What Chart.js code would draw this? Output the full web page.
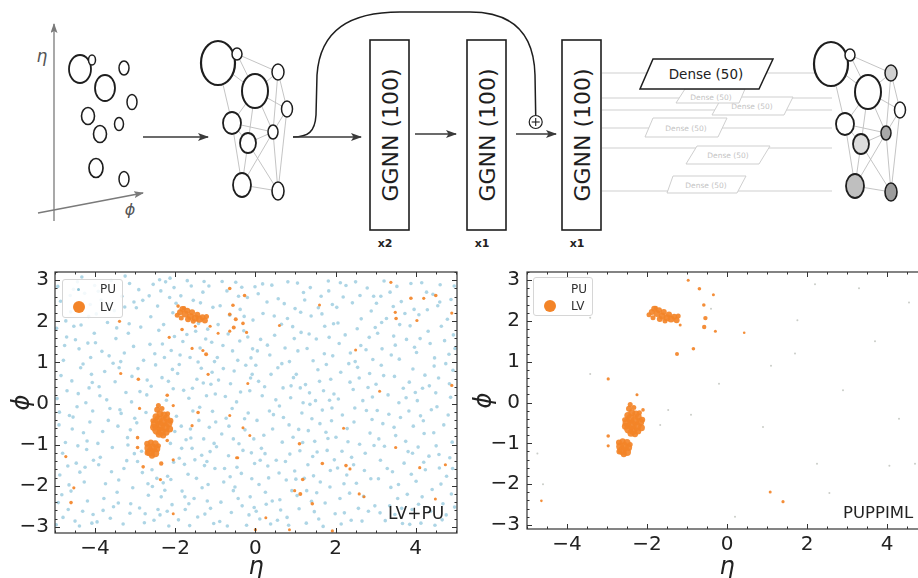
<!DOCTYPE html>
<html><head><meta charset="utf-8">
<script src="https://cdn.jsdelivr.net/npm/chart.js@4.4.1/dist/chart.umd.min.js"></script>
<style>
html,body{margin:0;padding:0;background:#fff;width:918px;height:578px;overflow:hidden;position:relative;font-family:"DejaVu Sans",sans-serif}
#diagram{position:absolute;left:0;top:0}
canvas{position:absolute}
#c1{left:0;top:255px}
#c2{left:462px;top:255px}
.legend{position:absolute;border:1px solid #d6d6d6;border-radius:3px;background:rgba(255,255,255,0.85);font-size:12px;color:#333;box-sizing:border-box}
.legend span{position:absolute;line-height:12px}
.dot{border-radius:50%}
.corner{position:absolute;color:#222;line-height:1;white-space:nowrap}
</style></head>
<body>
<svg id="diagram" width="918" height="255" viewBox="0 0 918 255" xmlns="http://www.w3.org/2000/svg" font-family="DejaVu Sans"></svg>
<canvas id="c1" width="462" height="340"></canvas>
<canvas id="c2" width="475" height="340"></canvas>
<div class="legend" style="left:62px;top:279px;width:61px;height:39px">
  <span class="dot" style="left:14px;top:8px;width:3px;height:3px;background:#8cc3d7"></span>
  <span style="left:37px;top:3px">PU</span>
  <span class="dot" style="left:10px;top:21px;width:12px;height:12px;background:#f38428"></span>
  <span style="left:37px;top:21px">LV</span>
</div>
<div class="legend" style="left:533px;top:277px;width:60px;height:39px">
  <span style="left:37px;top:5px">PU</span>
  <span class="dot" style="left:10px;top:22px;width:12px;height:12px;background:#f38428"></span>
  <span style="left:37px;top:22px">LV</span>
</div>
<div class="corner" style="left:388px;top:505px;font-size:17px">LV+PU</div>
<div class="corner" style="left:843px;top:505px;font-size:16.5px">PUPPIML</div>
<script>
// ---------------- data ----------------
const X_TICKS = [-4, -2, 0, 2, 4];
const Y_TICKS = [-3, -2, -1, 0, 1, 2, 3];
const X_TITLE = 'η';
const Y_TITLE = 'ϕ';

// pileup particles (eta, phi) in the LV+PU event
const puPoints = [
[-4.93,2.85],[-4.71,1.62],[-4.55,-0.33],[-4.88,-1.74],[-4.12,2.41],[-4.36,0.87],[-4.67,-2.58],[-4.21,-1.12],[-4.95,0.12],[-4.44,2.96],[-4.08,-2.91],[-4.79,1.05],[-4.29,-0.71],[-4.61,2.23],[-4.15,0.38],[-4.83,-2.22],[-4.47,-1.45],[-4.02,1.71],[-4.74,-0.95],[-4.33,3.08],[-4.58,0.55],[-4.19,-2.37],[-4.9,-0.52],[-4.4,1.33],[-4.06,-0.18],[-4.65,-1.98],[-4.26,2.68],[-4.86,2.49],[-4.5,-2.86],[-4.11,1.12],[-4.7,0.31],[-4.38,-1.67],[-4.97,-2.95],[-4.23,0.02],[-4.53,1.88],[-4.04,-1.38],[-4.81,-1.21],[-4.31,-2.62],[-4.62,2.63],[-4.16,2.12],[-4.45,-0.08],[-4.76,1.41],[-4.09,0.71],[-4.57,-0.62],[-4.35,1.91],[-4.92,-2.41],[-4.2,-0.91],[-4.68,-1.52],[-4.42,0.24],[-4.01,2.87],[-4.85,0.68],[-4.27,-1.91],[-4.6,-2.13],[-4.13,-0.45],[-4.73,2.01],[-4.49,1.55],[-4.05,-2.7],[-4.89,-0.21],[-4.3,0.96],[-4.64,-0.29],[-4.18,1.47],[-4.96,1.83],[-4.39,-2.98],[-4.07,0.51],[-4.54,2.78],[-4.25,-1.55],[-4.8,-2.77],[-4.43,-1.03],
[-3.92,2.73],[-3.15,1.94],[-3.67,-0.41],[-3.41,-1.86],[-3.08,0.66],[-3.83,1.27],[-3.54,-2.51],[-3.26,2.35],[-3.71,0.09],[-3.02,-1.22],[-3.95,-2.88],[-3.38,-0.15],[-3.6,2.99],[-3.19,-0.83],[-3.87,-1.31],[-3.48,1.58],[-3.11,-2.44],[-3.76,0.78],[-3.33,2.61],[-3.57,-1.07],[-3.04,1.39],[-3.9,0.41],[-3.45,-2.16],[-3.23,0.27],[-3.69,1.97],[-3.14,2.92],[-3.81,-0.68],[-3.36,1.02],[-3.62,-2.79],[-3.01,-0.36],[-3.5,0.53],[-3.97,2.18],[-3.28,-1.58],[-3.74,-1.95],[-3.17,1.71],[-3.43,-0.55],[-3.85,2.52],[-3.06,-2.05],[-3.65,1.16],[-3.3,-2.93],[-3.93,-0.97],[-3.52,2.26],[-3.21,-1.39],[-3.78,-2.31],[-3.4,0.87],[-3.09,0.04],[-3.59,-1.66],[-3.88,0.19],[-3.25,3.1],[-3.7,2.84],[-3.13,-2.67],[-3.46,1.84],[-3.99,1.48],[-3.35,-0.24],[-3.63,-0.12],[-3.18,-1.01],[-3.8,-2.6],[-3.55,0.98],[-3.03,2.47],[-3.42,-2.42],[-3.91,-1.49],[-3.27,1.23],[-3.66,2.41],[-3.12,-0.64],
[-2.91,2.77],[-2.14,2.58],[-2.63,1.44],[-2.38,-2.71],[-2.82,-1.68],[-2.05,0.36],[-2.55,2.9],[-2.27,1.12],[-2.71,0.21],[-2.19,-1.77],[-2.96,-0.47],[-2.44,2.37],[-2.08,-2.46],[-2.67,-2.23],[-2.33,0.63],[-2.86,1.86],[-2.12,-0.97],[-2.58,-1.61],[-2.24,2.96],[-2.77,-2.9],[-2.02,1.63],[-2.49,0.94],[-2.93,0.85],[-2.3,-1.93],[-2.61,2.11],[-2.16,-2.98],[-2.84,-1.16],[-2.41,1.78],[-2.06,2.21],[-2.73,-0.22],[-2.35,-2.27],[-2.97,2.33],[-2.22,0.08],[-2.53,-2.84],[-2.1,1.29],[-2.79,1.05],[-2.46,-1.82],[-2.01,-0.68],[-2.65,2.62],[-2.29,1.92],[-2.89,-2.54],[-2.17,0.54],[-2.57,-2.02],[-2.04,-1.43],[-2.7,0.57],[-2.36,2.74],[-2.94,-1.41],[-2.2,-2.62],[-2.51,1.21],[-2.13,3.05],[-2.81,2.51],[-2.43,-2.58],[-2.07,0.83],[-2.75,-2.68],[-2.32,1.45],[-2.6,0.42],[-2.26,-2.11],[-2.88,0.29],[-2.11,-1.85],[-2.68,-1.95],[-2.39,3.01],[-2.03,2.82],
[-1.94,0.73],[-1.16,2.86],[-1.62,-0.62],[-1.38,1.35],[-1.83,-2.13],[-1.07,-0.19],[-1.55,2.51],[-1.27,-1.51],[-1.71,1.68],[-1.02,1.02],[-1.9,-1.33],[-1.44,-2.76],[-1.11,0.47],[-1.66,0.13],[-1.31,2.71],[-1.86,2.62],[-1.2,-2.37],[-1.58,-1.09],[-1.04,-2.92],[-1.75,-2.58],[-1.35,0.86],[-1.97,-0.31],[-1.49,1.76],[-1.13,-1.17],[-1.68,-1.72],[-1.24,1.57],[-1.88,1.18],[-1.41,-0.41],[-1.06,2.34],[-1.6,2.86],[-1.29,-0.86],[-1.79,0.32],[-1.18,-1.97],[-1.53,-2.31],[-1.01,-1.58],[-1.73,-0.88],[-1.37,2.45],[-1.92,-2.83],[-1.46,0.59],[-1.09,1.49],[-1.64,-2.97],[-1.22,0.19],[-1.81,1.51],[-1.33,-2.05],[-1.98,2.44],[-1.51,-1.37],[-1.15,-0.58],[-1.7,2.99],[-1.26,-2.69],[-1.85,-0.55],[-1.43,1.01],[-1.08,0.76],[-1.57,0.37],[-1.34,-1.26],[-1.77,-1.48],[-1.19,1.81],[-1.63,1.12],[-1.03,-0.97],[-1.47,-1.82],[-1.9,0.95],[-1.28,2.97],[-1.12,-2.55],[-1.66,-2.44],[-1.39,-0.09],[-1.84,-1.09],[-1.21,-1.41],[-1.56,-0.18],[-1.0,0.23],[-1.76,-2.27],[-1.42,1.95],[-1.3,0.5],[-1.61,-0.84],
[-0.93,1.92],[-0.16,-2.71],[-0.62,0.48],[-0.38,2.29],[-0.84,-0.74],[-0.07,1.33],[-0.55,-2.12],[-0.27,-0.37],[-0.71,2.74],[-0.02,-1.46],[-0.89,-2.87],[-0.44,1.05],[-0.12,0.62],[-0.67,-1.27],[-0.33,-2.49],[-0.81,1.41],[-0.2,2.58],[-0.58,-0.12],[-0.04,-0.86],[-0.75,0.17],[-0.35,-1.7],[-0.97,-1.05],[-0.49,2.95],[-0.13,-2.27],[-0.68,1.69],[-0.24,0.93],[-0.88,2.38],[-0.41,-0.98],[-0.06,2.03],[-0.6,-2.65],[-0.29,1.77],[-0.79,-1.91],[-0.18,-0.23],[-0.53,0.79],[-0.01,2.84],[-0.73,-0.36],[-0.37,0.28],[-0.92,0.57],[-0.46,-1.55],[-0.09,-1.83],[-0.64,2.15],[-0.22,-2.96],[-0.86,-2.4],[-0.42,2.61],[-0.11,1.11],[-0.66,-0.55],[-0.31,-1.14],[-0.95,1.12],[-0.51,-2.03],[-0.14,0.31],[-0.77,-1.58],[-0.39,1.52],[-0.03,-2.53],[-0.57,1.28],[-0.26,-0.64],[-0.83,2.97],[-0.47,0.04],[-0.1,-1.2],[-0.7,-2.98],[-0.34,2.83],[-0.99,-0.45],[-0.55,-0.86],[-0.19,1.62],[-0.8,0.85],[-0.43,-2.31],[-0.08,0.71],[-0.63,-1.78],[-0.28,2.12],
[0.07,2.67],[0.84,-0.52],[0.36,1.18],[0.61,-2.34],[0.15,-1.09],[0.93,1.87],[0.45,-0.27],[0.72,2.43],[0.23,0.41],[0.98,-1.64],[0.11,-2.81],[0.56,0.87],[0.88,0.14],[0.33,-1.81],[0.67,-0.94],[0.19,2.19],[0.79,-2.77],[0.41,2.88],[0.04,-0.41],[0.52,-1.38],[0.95,0.63],[0.27,-2.45],[0.74,1.35],[0.13,1.56],[0.6,-0.06],[0.86,-1.23],[0.38,-2.93],[0.01,0.93],[0.48,1.66],[0.81,2.96],[0.21,-0.77],[0.69,0.38],[0.31,-1.52],[0.91,-2.12],[0.09,-1.97],[0.57,2.55],[0.43,-0.62],[0.77,-1.86],[0.17,0.19],[0.99,2.31],[0.63,-2.59],[0.29,2.47],[0.85,1.02],[0.05,1.28],[0.51,0.09],[0.7,-0.34],[0.25,-2.16],[0.94,-0.82],[0.39,0.71],[0.12,-1.38],[0.65,1.93],[0.83,-2.96],[0.35,-0.18],[0.59,-1.69],[0.02,-2.62],[0.47,2.13],[0.89,0.43],[0.18,2.91],[0.75,-1.41],[0.3,1.42],[0.55,-2.84],[0.97,1.58],[0.08,0.54],[0.66,0.97],[0.42,-2.37],[0.8,2.07],[0.24,-1.22],
[1.08,-0.63],[1.83,2.74],[1.35,0.26],[1.62,-1.91],[1.14,1.73],[1.91,-0.11],[1.47,-2.63],[1.72,1.21],[1.23,2.52],[1.97,-1.37],[1.04,-2.24],[1.56,0.82],[1.81,-0.85],[1.31,-1.49],[1.66,2.18],[1.19,0.02],[1.88,0.59],[1.41,-0.37],[1.05,2.93],[1.74,-2.42],[1.52,1.57],[1.27,-2.91],[1.95,1.94],[1.11,-1.15],[1.61,-0.49],[1.86,-2.03],[1.37,2.82],[1.02,0.71],[1.7,0.31],[1.45,-1.76],[1.16,-0.23],[1.92,2.41],[1.58,-2.81],[1.29,1.34],[1.79,-1.14],[1.06,1.28],[1.5,0.07],[1.84,1.61],[1.22,-1.82],[1.67,-0.16],[1.39,2.13],[1.99,-2.68],[1.13,2.22],[1.54,-1.18],[1.77,0.95],[1.32,-0.66],[1.9,-0.42],[1.44,1.04],[1.09,-2.56],[1.64,2.61],[1.25,0.46],[1.87,-1.63],[1.53,-2.17],[1.18,-0.95],[1.73,1.88],[1.4,-2.38],[1.96,0.23],[1.34,1.69],[1.6,0.54],[1.01,-1.84],[1.82,2.98],[1.48,-0.92],[1.2,2.7],[1.69,-2.99],[1.36,-0.02],[1.93,1.16],[1.57,2.33],[1.12,0.38],[1.76,-0.7],[1.43,-1.29],[1.85,0.08],[1.28,-2.12],
[2.09,1.46],[2.86,-0.72],[2.35,-2.18],[2.61,2.63],[2.17,-0.28],[2.93,1.07],[2.44,0.34],[2.72,-1.63],[2.26,2.87],[2.98,-2.49],[2.05,-1.57],[2.54,1.82],[2.81,0.39],[2.31,-0.93],[2.66,-2.86],[2.13,0.76],[2.89,2.25],[2.4,-1.31],[2.03,2.34],[2.77,-0.17],[2.5,2.96],[2.22,-2.66],[2.96,-1.02],[2.59,0.62],[2.14,-2.93],[2.84,1.61],[2.37,1.23],[2.7,-2.26],[2.07,0.11],[2.46,-0.45],[2.92,0.16],[2.28,-1.74],[2.63,1.41],[2.19,2.59],[2.79,2.81],[2.52,-1.94],[2.01,-0.82],[2.74,-1.21],[2.33,0.97],[2.88,-1.83],[2.42,2.45],[2.11,-2.31],[2.68,0.07],[2.57,-2.55],[2.24,1.67],[2.95,2.61],[2.48,-0.11],[2.16,-1.16],[2.82,-2.62],[2.39,-2.84],[2.64,2.06],[2.06,1.96],[2.55,0.88],[2.29,-0.61],[2.91,-0.39],[2.45,-1.49],[2.12,2.94],[2.76,1.31],[2.36,0.52],[2.6,-0.99],[2.21,-1.95],[2.85,0.73],[2.49,1.02],[2.99,1.85],
[3.07,-1.83],[3.84,0.52],[3.36,2.71],[3.62,-0.34],[3.14,0.93],[3.91,-2.58],[3.45,1.64],[3.73,2.19],[3.22,-1.04],[3.97,1.37],[3.02,2.44],[3.55,-2.31],[3.81,-1.17],[3.31,0.21],[3.67,-2.92],[3.18,-0.49],[3.88,2.92],[3.42,-1.66],[3.05,1.71],[3.76,0.14],[3.5,-0.78],[3.27,2.07],[3.94,-0.55],[3.59,1.08],[3.11,-2.66],[3.86,1.89],[3.38,-2.04],[3.71,-1.45],[3.04,-0.17],[3.47,0.66],[3.93,0.84],[3.24,-2.85],[3.64,2.48],[3.16,1.33],[3.79,-2.21],[3.53,2.85],[3.01,0.47],[3.75,-0.92],[3.33,-0.26],[3.89,-1.72],[3.44,2.36],[3.12,-1.38],[3.69,0.37],[3.57,-1.97],[3.21,2.98],[3.96,2.29],[3.48,-2.7],[3.15,1.97],[3.83,-0.18],[3.39,1.18],[3.65,-2.55],[3.08,-0.86],[3.58,0.02],[3.29,-1.58],[3.92,-1.21],[3.46,-0.58],[3.13,2.61],[3.77,1.56],[3.35,-2.49],[3.6,1.92],[3.2,0.68],[3.85,-2.94],[3.49,1.42],[3.99,0.27],
[4.08,2.16],[4.85,-1.32],[4.34,0.43],[4.61,2.89],[4.16,-2.27],[4.93,0.81],[4.45,-0.71],[4.72,1.53],[4.24,-1.61],[4.97,-2.52],[4.04,0.07],[4.55,2.38],[4.81,-0.28],[4.31,1.76],[4.66,-2.83],[4.19,-0.42],[4.88,2.53],[4.41,-2.09],[4.02,1.24],[4.77,-1.77],[4.5,0.26],[4.27,2.71],[4.94,1.67],[4.58,-1.24],[4.13,-2.91],[4.84,0.48],[4.37,-2.62],[4.7,-0.52],[4.06,-1.06],[4.47,1.11],[4.91,-0.94],[4.23,0.69],[4.63,-1.96],[4.15,2.94],[4.79,2.05],[4.53,-0.08],[4.01,-1.89],[4.75,0.97],[4.33,-1.28],[4.89,-2.2],[4.43,2.66],[4.11,1.58],[4.68,-2.44],[4.57,0.62],[4.21,-0.73],[4.96,2.86],[4.48,-2.96],[4.17,0.37],[4.83,1.2],[4.39,-0.15],[4.64,1.88],[4.07,-2.45],[4.59,-1.57],[4.29,2.28],[4.92,-1.58],[4.46,0.91],[4.12,-0.3],[4.76,-2.71],[4.36,1.46],[4.6,2.47],[4.2,-1.43],[4.87,0.15],[4.51,-1.03],[4.98,1.34]
];

// pileup particles surviving PUPPIML weighting (eta, phi)
const puKept = [
[-3.42,0.7],[-3.42,2.08],[-1.47,-0.18],[-1.67,-0.55],[-2.26,0.2],[-0.2,0.46],[2.25,-1.5],[4.06,-1.55],[4.7,-1.5],[2.56,-2.22],[0.2,-2.8],[-4.74,-1.25],[-4.6,-2.0],[1.76,2.02],[3.3,2.8],[2.9,0.3],[4.3,-0.4],[1.7,1.2],[3.7,1.5],[0.9,-0.6],[-0.9,-0.3],[4.55,2.45],[3.2,-2.7],[1.1,0.9],[-0.4,2.3],[2.2,2.9]
];

// leading-vertex jet constituents (eta, phi, marker radius ~ pT)
const lvJets = [
[-1.88,2.22,3],[-1.82,2.30,3],[-1.75,2.18,3.5],[-1.70,2.26,3],[-1.62,2.12,3.5],[-1.58,2.22,3],[-1.50,2.08,3.5],[-1.45,2.16,3],[-1.40,2.05,3.5],[-1.32,2.10,3],[-1.26,2.02,3],[-1.85,2.08,2.5],[-1.68,2.05,3],[-1.55,2.00,2.5],[-1.95,2.15,2.5],[-1.22,2.12,2.5],[-1.78,2.32,2.2],
[-2.42,-0.05,2.5],[-2.45,-0.15,3],[-2.33,-0.12,2.5],[-2.38,-0.25,3.5],[-2.28,-0.28,3.5],[-2.48,-0.32,3.5],[-2.22,-0.35,3.5],[-2.42,-0.40,4.5],[-2.30,-0.45,4.5],[-2.17,-0.48,4],[-2.50,-0.50,4.5],[-2.38,-0.55,5],[-2.25,-0.58,4.5],[-2.14,-0.62,3.5],[-2.46,-0.65,4.5],[-2.35,-0.68,4.5],[-2.23,-0.70,3.5],[-2.40,-0.75,3.5],[-2.30,-0.78,3],[-2.54,-0.58,3.5],[-2.12,-0.42,3],[-2.19,-0.25,2.5],[-2.56,-0.42,2.5],
[-2.70,-0.98,3],[-2.61,-0.95,3],[-2.50,-0.98,3.5],[-2.67,-1.08,4],[-2.56,-1.08,4.5],[-2.46,-1.10,3.5],[-2.62,-1.18,4.5],[-2.50,-1.21,4],[-2.69,-1.20,3],[-2.58,-1.27,3],[-2.42,-1.03,2.5]
];

// isolated leading-vertex particles in the LV+PU view (eta, phi, radius)
const lvLooseAll = [
[-0.64,2.8,1.8],[-0.27,2.63,1.8],[-0.56,2.39,1.8],[-1.93,2.37,1.8],[-0.64,2.17,1.8],[-0.49,2.05,2],[-0.31,1.95,1.8],[-0.54,1.85,2],[-0.64,1.76,1.6],[-0.22,1.73,1.6],[-1.83,1.8,1.8],[-1.5,1.88,1.5],[-2.15,1.61,1.6],[-1.13,1.88,1.6],[-1.58,1.34,1.6],[-1.23,1.2,2],[-1.31,1.29,1.6],[-0.93,1.71,1.5],[-2.92,0.59,1.8],[-2.2,0.2,1.8],[-2.05,-0.05,1.6],[-2.89,-0.12,1.6],[-1.58,-0.54,1.6],[-1.43,-0.22,1.8],[-0.19,0.49,1.5],[-0.64,-0.29,1.5],[-0.31,-0.59,1.5],[-0.14,-0.78,1.5],[-2.2,-0.9,1.8],[-2.35,-1.46,2.2],[-2.94,-0.83,1.8],[-2.94,-1.07,1.8],[-0.44,-1.32,1.5],[-1.18,0.71,1.6],[-4.73,-1.29,1.6],[-4.53,-2.05,1.6],[-4.6,-2.41,1.8],[-2.8,-1.54,1.8],[-2.37,-1.85,1.6],[-2.05,-1.37,1.6],[-2.05,-2.68,1.5],[1.1,-0.98,1.8],[1.18,-1.85,1.8],[0.98,-2.12,1.6],[1.12,-2.2,2],[1.42,-2.44,1.8],[1.67,-1.46,1.8],[2.26,-1.51,1.8],[2.36,-1.59,1.6],[2.59,-2.2,1.6],[2.71,-2.27,1.5],[3.5,-1.07,1.6],[4.1,-1.56,1.6],[4.74,-1.49,1.6],[4.49,-2.32,1.5],[1.92,-3.1,1.6],[0.0,-3.07,1.6],[0.26,-2.78,1.5],[0.85,-3.07,1.5],[-0.47,-1.32,1.5],[3.38,2.95,1.6],[3.88,2.56,1.8],[4.2,2.56,1.6],[4.5,2.63,1.8],[3.49,2.22,1.6],[3.51,2.07,1.8],[4.03,2.02,1.6],[4.9,2.2,1.6],[-3.39,2.0,1.6],[-3.36,0.73,1.6],[4.9,0.44,1.6],[0.6,1.9,1.5],[1.6,2.4,1.5],[2.5,1.3,1.5],[3.1,0.3,1.5],[2.2,-0.6,1.5]
];

// isolated leading-vertex particles kept by PUPPIML (eta, phi, radius)
const lvLooseKept = [
[-0.97,3.0,1.5],[-0.69,2.79,1.8],[-0.34,2.64,1.5],[-0.58,2.39,1.8],[-0.54,2.07,2.2],[-0.57,1.85,2.2],[-0.29,1.75,1.5],[0.43,1.71,1.3],[-0.84,1.32,1.8],[-1.25,1.19,2],[-1.17,1.9,1.5],[-2.97,0.58,1.6],[-2.1,-0.18,1.8],[-2.97,-0.82,1.8],[-2.97,-1.06,1.6],[1.08,-2.19,1.5],[1.4,-2.43,1.6],[-4.64,-2.41,1.3],[-2.25,0.19,1.5]
];

// ---------------- styling / helpers ----------------
const FONT = 'DejaVu Sans';
const ORANGE = 'rgba(243,132,40,0.92)';
const PU_BLUE = 'rgba(142,197,219,0.72)';
const PU_GREY = 'rgba(150,156,146,0.5)';

function fmt(v) { return v < 0 ? '\u2212' + Math.abs(v) : String(v); }

function axisTicksPlugin(xMinorStep, yMinorStep) {
  return {
    id: 'inwardTicks',
    afterDraw(chart) {
      const {ctx, chartArea: a, scales: {x, y}} = chart;
      ctx.save();
      ctx.strokeStyle = '#333';
      ctx.lineWidth = 1;
      const tick = (vals, len, horiz) => {
        vals.forEach(v => {
          if (horiz) {
            const p = Math.round(x.getPixelForValue(v)) + 0.5;
            ctx.beginPath();
            ctx.moveTo(p, a.bottom); ctx.lineTo(p, a.bottom - len);
            ctx.moveTo(p, a.top); ctx.lineTo(p, a.top + len);
            ctx.stroke();
          } else {
            const p = Math.round(y.getPixelForValue(v)) + 0.5;
            ctx.beginPath();
            ctx.moveTo(a.left, p); ctx.lineTo(a.left + len, p);
            ctx.moveTo(a.right, p); ctx.lineTo(a.right - len, p);
            ctx.stroke();
          }
        });
      };
      const minors = (min, max, step, majors) => {
        const out = [];
        for (let k = Math.ceil(min / step); k * step <= max; k++) {
          const v = +(k * step).toFixed(4);
          if (!majors.some(m => Math.abs(m - v) < 1e-6)) out.push(v);
        }
        return out;
      };
      tick(X_TICKS, 5, true);
      tick(Y_TICKS, 5, false);
      tick(minors(x.min, x.max, xMinorStep, X_TICKS), 2.5, true);
      tick(minors(y.min, y.max, yMinorStep, Y_TICKS), 2.5, false);
      ctx.lineWidth = 1.2;
      ctx.strokeStyle = '#333';
      ctx.strokeRect(a.left, a.top, a.right - a.left, a.bottom - a.top);
      ctx.restore();
    }
  };
}

function makeChart(id, g, datasets) {
  return new Chart(document.getElementById(id), {
    type: 'scatter',
    data: {datasets},
    options: {
      responsive: false, animation: false, devicePixelRatio: 1,
      layout: {padding: {top: g.padTop, right: g.padRight, left: 0, bottom: 0}},
      plugins: {legend: {display: false}, tooltip: {enabled: false}},
      events: [],
      scales: {
        x: {
          type: 'linear', min: g.xMin, max: g.xMax,
          afterBuildTicks: s => { s.ticks = X_TICKS.map(v => ({value: v})); },
          afterFit: s => { s.height = g.xH; s.paddingLeft = 0; s.paddingRight = 0; },
          grid: {display: false, drawTicks: false}, border: {display: false},
          ticks: {padding: 4, autoSkip: false, maxRotation: 0, color: '#222',
                  font: {family: FONT, size: 20}, callback: v => fmt(v)},
          title: {display: true, text: X_TITLE, color: '#222',
                  font: {family: FONT, size: 24, style: 'italic'}, padding: {top: 0, bottom: 13}}
        },
        y: {
          type: 'linear', min: g.yMin, max: g.yMax,
          afterBuildTicks: s => { s.ticks = Y_TICKS.map(v => ({value: v})); },
          afterFit: s => { s.width = g.yW; s.paddingTop = 0; s.paddingBottom = 0; },
          grid: {display: false, drawTicks: false}, border: {display: false},
          ticks: {padding: g.yPad, autoSkip: false, color: '#222',
                  font: {family: FONT, size: 20}, callback: v => fmt(v)},
          title: {display: true, text: Y_TITLE, color: '#222',
                  font: {family: FONT, size: 24, style: 'italic'}, padding: {top: g.yTitlePad, bottom: 0}}
        }
      }
    },
    plugins: [axisTicksPlugin(0.5, 0.2)]
  });
}

const toXY = arr => arr.map(([x, y]) => ({x, y}));
const toXYR = arr => arr.map(([x, y, r]) => ({x, y, r}));

makeChart('c1',
  {padTop: 17, padRight: 5, xH: 62, yW: 55, yPad: 6, yTitlePad: 8,
   xMin: -5, xMax: 5.03, yMin: -3.15, yMax: 3.2},
  [
    {type: 'bubble', data: toXYR(lvJets.concat(lvLooseAll)), backgroundColor: ORANGE, borderWidth: 0, order: 0},
    {type: 'scatter', data: toXY(puPoints), pointRadius: 1.8, pointBackgroundColor: PU_BLUE, pointBorderWidth: 0, order: 1}
  ]);

makeChart('c2',
  {padTop: 17, padRight: 10, xH: 66, yW: 65, yPad: 7, yTitlePad: 8,
   xMin: -5, xMax: 5, yMin: -3.1, yMax: 3.2},
  [
    {type: 'bubble', data: toXYR(lvJets.concat(lvLooseKept)), backgroundColor: ORANGE, borderWidth: 0, order: 0},
    {type: 'scatter', data: toXY(puKept), pointRadius: 1, pointBackgroundColor: PU_GREY, pointBorderWidth: 0, order: 1}
  ]);

// ---------------- architecture diagram (SVG) ----------------
(function drawDiagram() {
  const svg = document.getElementById('diagram');
  let s = `<defs>
   <marker id="ah" markerWidth="11" markerHeight="8" refX="10" refY="4" orient="auto" markerUnits="userSpaceOnUse"><path d="M0,0 L11,4 L0,8 L2.5,4 z" fill="#3a3a3a"/></marker>
   <marker id="ahg" markerWidth="10" markerHeight="7" refX="9" refY="3.5" orient="auto" markerUnits="userSpaceOnUse"><path d="M0,0 L10,3.5 L0,7 L2,3.5 z" fill="#7a7a7a"/></marker>
  </defs>`;
  // coordinate frame
  s += `<line x1="54" y1="221" x2="54" y2="24" stroke="#7a7a7a" stroke-width="1.3" marker-end="url(#ahg)"/>`;
  s += `<line x1="38" y1="213" x2="143" y2="193" stroke="#7a7a7a" stroke-width="1.3" marker-end="url(#ahg)"/>`;
  s += `<text x="42" y="62" font-size="17" font-style="italic" fill="#555" text-anchor="middle">η</text>`;
  s += `<text x="130" y="215" font-size="16" font-style="italic" fill="#555" text-anchor="middle">ϕ</text>`;
  // input particles
  const inp = [[80,69,11,14,1.8],[92,60,3.5,5,1.5],[105,88,10,13,1.8],[124,68,5,7,1.5],[132,102,5,7.5,1.5],[88,116,6.5,8.5,1.6],[119,124,4.5,6.5,1.5],[100,134,6.5,8.5,1.6],[96,168,7,9.5,1.7],[124,179,5,7.5,1.5]];
  inp.forEach(([cx,cy,rx,ry,w]) => { s += `<ellipse cx="${cx}" cy="${cy}" rx="${rx}" ry="${ry}" fill="#fff" stroke="#1e1e1e" stroke-width="${w}"/>`; });
  s += `<line x1="143" y1="137" x2="208" y2="137" stroke="#3a3a3a" stroke-width="1.5" marker-end="url(#ah)"/>`;
  // graphs
  const nodes = {A:[218,63,17,22,2.2],B:[237,54,5,6,1.5],C:[255,91,13,17,2],D:[278,72,6,8,1.5],E:[287,109,5.5,8,1.5],F:[232,123,9,11,1.8],G:[273,132,5,7,1.5],H:[248,143,8,10,1.8],I:[242,185,9,12,1.8],J:[278,191,6,9,1.6]};
  const edges = ['AB','BD','AC','AF','BC','CD','DE','CE','CF','CG','DG','EG','FG','FH','GH','FI','HI','HJ','GJ','GI','EJ','IJ','CH'];
  const graph = (dx, dy, fills) => {
    let g = '';
    edges.forEach(e => {
      const a = nodes[e[0]], b = nodes[e[1]];
      g += `<line x1="${a[0]+dx}" y1="${a[1]+dy}" x2="${b[0]+dx}" y2="${b[1]+dy}" stroke="#bdbdbd" stroke-width="0.9"/>`;
    });
    Object.keys(nodes).forEach(k => {
      const [cx,cy,rx,ry,w] = nodes[k];
      g += `<ellipse cx="${cx+dx}" cy="${cy+dy}" rx="${rx}" ry="${ry}" fill="${fills[k]||'#fff'}" stroke="#1e1e1e" stroke-width="${w}"/>`;
    });
    return g;
  };
  s += graph(0, 0, {});
  // connection lines to output graph
  [73,98,110,128,148,191].forEach(y => { s += `<line x1="602" y1="${y}" x2="832" y2="${y}" stroke="#cfcfcf" stroke-width="1"/>`; });
  // faint dense heads
  const faint = [
    ['673,176 746,176 737,193 667,193', 706, 185],
    ['697,146 770,146 759,164 686,164', 728, 155],
    ['653,118 727,118 718,137 645,137', 686, 128],
    ['722,97 793,97 784,115 712,115', 752, 106],
    ['685,89 745,89 739,103 676,103', 711, 97]
  ];
  faint.forEach(([pts, tx, ty]) => {
    s += `<polygon points="${pts}" fill="#fff" stroke="#cfcfcf" stroke-width="1"/>`;
    s += `<text x="${tx}" y="${ty}" font-size="7.5" fill="#c4c4c4" text-anchor="middle" dominant-baseline="central">Dense (50)</text>`;
  });
  s += `<polygon points="653,59 773,59 759,89 640,89" fill="#fff" stroke="#1e1e1e" stroke-width="1.5"/>`;
  s += `<text x="706" y="74" font-size="13.5" fill="#222" text-anchor="middle" dominant-baseline="central">Dense (50)</text>`;
  s += graph(613, 1, {D:'#d0d0d0', G:'#a9a9a9', H:'#dcdcdc', I:'#bfbfbf', J:'#9c9c9c'});
  // skip connection and flow arrows
  s += `<path d="M293,137 C308,137 315,132 316,115 L317,75 C320,30 350,12 400,12 L470,12 C515,12 534,35 535,75 L535.7,115" fill="none" stroke="#1e1e1e" stroke-width="1.5"/>`;
  s += `<line x1="293" y1="137" x2="361" y2="137" stroke="#3a3a3a" stroke-width="1.5" marker-end="url(#ah)"/>`;
  s += `<line x1="415" y1="134" x2="456" y2="134" stroke="#3a3a3a" stroke-width="1.5" marker-end="url(#ah)"/>`;
  s += `<line x1="516" y1="134" x2="556" y2="134" stroke="#3a3a3a" stroke-width="1.5" marker-end="url(#ah)"/>`;
  s += `<circle cx="535.7" cy="122" r="6.5" fill="#fff" stroke="#1e1e1e" stroke-width="1.2"/>`;
  s += `<line x1="531.7" y1="122" x2="539.7" y2="122" stroke="#1e1e1e" stroke-width="1.1"/><line x1="535.7" y1="118" x2="535.7" y2="126" stroke="#1e1e1e" stroke-width="1.1"/>`;
  // GGNN blocks
  [[370,'x2'],[467,'x1'],[562,'x1']].forEach(([x0, rep]) => {
    s += `<rect x="${x0}" y="40" width="39" height="190" fill="#fff" stroke="#1e1e1e" stroke-width="1.6"/>`;
    s += `<text transform="translate(${x0+20.5},135) rotate(-90)" font-size="22" fill="#1e1e1e" text-anchor="middle" dominant-baseline="central">GGNN (100)</text>`;
    s += `<text x="${x0+15}" y="247" font-size="11" font-weight="bold" fill="#222" text-anchor="middle">${rep}</text>`;
  });
  svg.innerHTML = s;
})();
</script>
</body></html>
